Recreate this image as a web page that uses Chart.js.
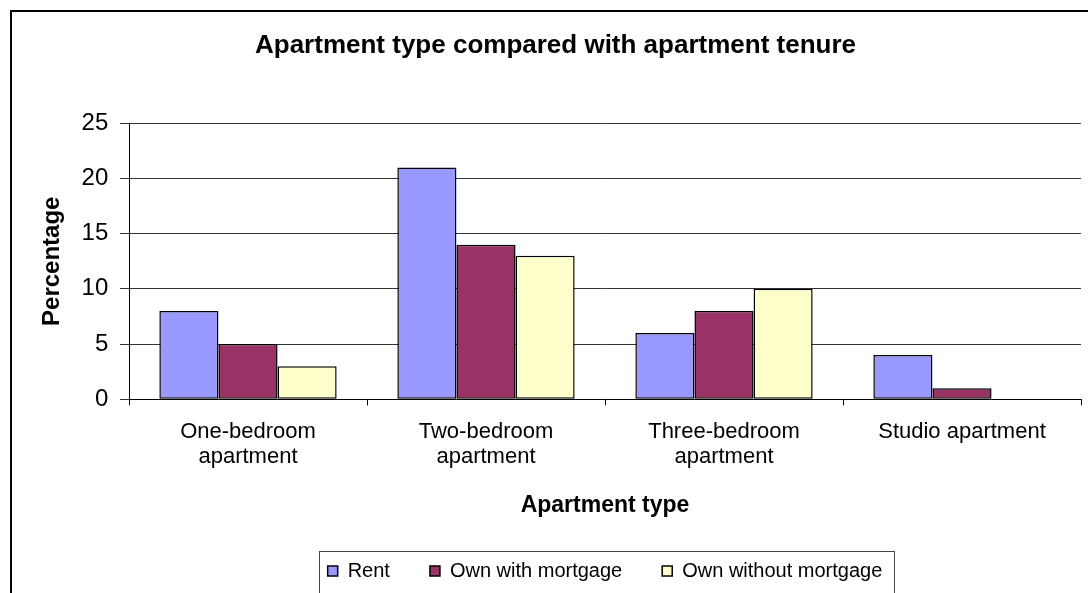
<!DOCTYPE html>
<html>
<head>
<meta charset="utf-8">
<script src="https://cdn.jsdelivr.net/npm/chart.js@4/dist/chart.umd.min.js"></script>
<style>
  html, body { margin: 0; padding: 0; background: #fff; overflow: hidden; }
  #wrap { width: 1088px; height: 593px; position: relative; }
</style>
</head>
<body>
<div id="wrap"><canvas id="chart"></canvas></div>
<script>
  // Data
  const categories = [
    ['One-bedroom', 'apartment'],
    ['Two-bedroom', 'apartment'],
    ['Three-bedroom', 'apartment'],
    'Studio apartment'
  ];
  const seriesNames = ['Rent', 'Own with mortgage', 'Own without mortgage'];
  const rent = [8, 21, 6, 4];
  const ownWithMortgage = [5, 14, 8, 1];
  const ownWithoutMortgage = [3, 13, 10, 0];
  const yTicks = [0, 5, 10, 15, 20, 25];

  const FONT = "'Liberation Sans', Arial, sans-serif";
  const colors = ['#9999FF', '#993366', '#FFFFCC'];

  // white background + outer chart frame (right/bottom edges are off-screen)
  const framePlugin = {
    id: 'frame',
    beforeDraw(chart) {
      const ctx = chart.ctx;
      ctx.save();
      ctx.fillStyle = '#fff';
      ctx.fillRect(0, 0, chart.width, chart.height);
      ctx.strokeStyle = '#000';
      ctx.lineWidth = 2;
      ctx.strokeRect(11, 11, 1200, 800);
      ctx.restore();
    }
  };

  // box around the legend items, Excel style (bottom edge runs off-screen)
  const legendBoxPlugin = {
    id: 'legendBox',
    afterDraw(chart) {
      const lg = chart.legend;
      if (!lg || !lg.legendHitBoxes || !lg.legendHitBoxes.length) return;
      const boxes = lg.legendHitBoxes;
      const l = Math.min(...boxes.map(b => b.left)) - 9;
      const r = Math.max(...boxes.map(b => b.left + b.width)) + 11;
      const mid = boxes[0].top + boxes[0].height / 2;
      const t = mid - 20;
      const ctx = chart.ctx;
      ctx.save();
      ctx.strokeStyle = '#444';
      ctx.lineWidth = 1;
      ctx.strokeRect(Math.round(l) + 0.5, Math.round(t) + 0.5, Math.round(r - l), 200);
      ctx.restore();
    }
  };

  const seriesData = [rent, ownWithMortgage, ownWithoutMortgage];

  new Chart(document.getElementById('chart'), {
    type: 'bar',
    data: {
      labels: categories,
      datasets: seriesNames.map((name, i) => ({
        label: name,
        data: seriesData[i],
        backgroundColor: colors[i],
        borderColor: '#000',
        borderWidth: 1.5,
        borderSkipped: false,
        barPercentage: 1,
        categoryPercentage: 0.745
      }))
    },
    options: {
      responsive: true,
      maintainAspectRatio: false,
      devicePixelRatio: 1,
      animation: false,
      layout: { padding: { left: 30, right: 7, top: 0, bottom: 2 } },
      plugins: {
        title: {
          display: true,
          text: 'Apartment type compared with apartment tenure',
          color: '#000',
          font: { family: FONT, size: 26, weight: 'bold' },
          padding: { top: 30, bottom: 62 }
        },
        legend: {
          position: 'bottom',
          fullSize: false,
          labels: {
            color: '#000',
            font: { family: FONT, size: 20 },
            boxWidth: 10,
            boxHeight: 10,
            padding: 40
          }
        },
        tooltip: { enabled: false }
      },
      scales: {
        x: {
          afterFit(scale) { scale.height = 121.7; },
          grid: {
            display: true,
            offset: true,
            drawOnChartArea: false,
            drawTicks: true,
            tickLength: 6,
            color: '#000'
          },
          border: { color: '#000', width: 1 },
          ticks: {
            color: '#000',
            font: { family: FONT, size: 22, lineHeight: 1.14 },
            padding: 14.5,
            maxRotation: 0,
            autoSkip: false
          },
          title: {
            display: true,
            text: 'Apartment type',
            color: '#000',
            font: { family: FONT, size: 23, weight: 'bold' },
            padding: { top: 0, bottom: 1.9 }
          }
        },
        y: {
          min: yTicks[0],
          max: yTicks[yTicks.length - 1],
          afterFit(scale) { scale.width = 99; },
          afterBuildTicks(scale) { scale.ticks = yTicks.map(v => ({ value: v })); },
          grid: {
            color: '#333',
            lineWidth: 1,
            drawTicks: true,
            tickLength: 9
          },
          border: { color: '#000', width: 1 },
          ticks: {
            color: '#000',
            font: { family: FONT, size: 24 },
            padding: 11.7
          },
          title: {
            display: true,
            text: 'Percentage',
            color: '#000',
            font: { family: FONT, size: 24, weight: 'bold' },
            padding: { top: 7.8, bottom: 0 }
          }
        }
      }
    },
    plugins: [framePlugin, legendBoxPlugin]
  });
</script>
</body>
</html>
